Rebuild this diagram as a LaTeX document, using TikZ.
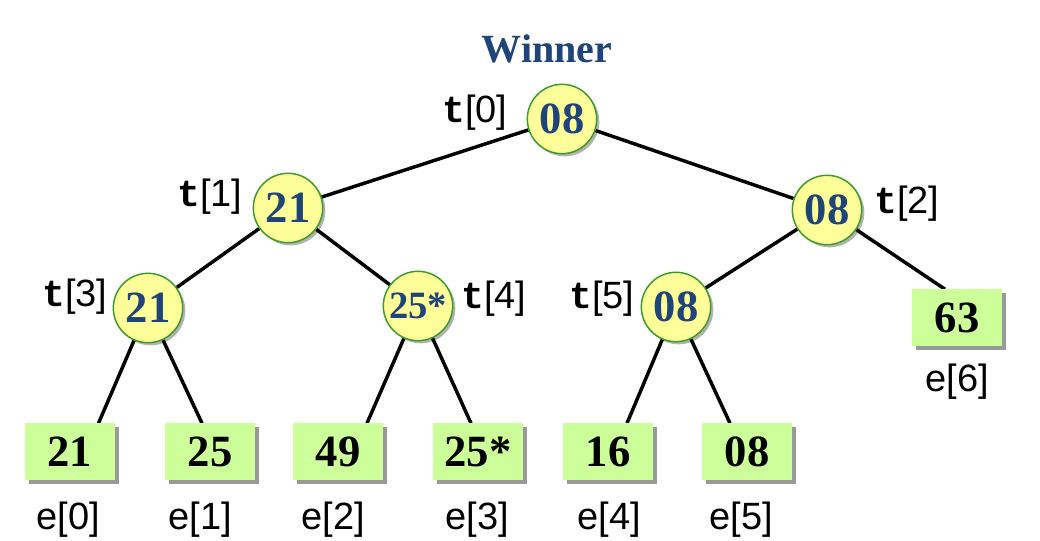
\documentclass[tikz,border=0pt]{standalone}
\usepackage{fontspec}
\setmainfont{Liberation Serif}
\newfontfamily\lsans{Liberation Sans}
\newfontfamily\lmono{Liberation Mono}
\usetikzlibrary{shadows,backgrounds}
\definecolor{circfill}{HTML}{FFFF99}
\definecolor{circdraw}{HTML}{3A9A2A}
\definecolor{boxfill}{HTML}{CCFF99}
\definecolor{numblue}{HTML}{1F447A}
\tikzset{
  tnode/.style={circle, fill=circfill, draw=circdraw, line width=1.1pt,
    minimum size=52pt, inner sep=0pt,
    font=\bfseries\fontsize{33.5}{35}\selectfont, text=numblue,
    drop shadow={shadow xshift=2pt, shadow yshift=-2pt, fill=black, opacity=0.3}},
  tnodesmall/.style={tnode, font=\bfseries\fontsize{29}{31}\selectfont},
  ebox/.style={rectangle, fill=boxfill, minimum width=67.5pt, minimum height=42.75pt,
    inner sep=0pt, font=\bfseries\fontsize{33.5}{35}\selectfont, text=black,
    drop shadow={shadow xshift=3pt, shadow yshift=-3pt, fill=black!40, opacity=1}},
  lbl/.style={inner sep=0pt, font=\lsans\fontsize{28.5}{30}\selectfont},
  edge/.style={line width=2.6pt, black}
}
\newcommand{\mt}{{\lmono\bfseries t}}
\begin{document}
\begin{tikzpicture}[x=0.75pt,y=-0.75pt]
\useasboundingbox (0,0) rectangle (1040,541);
% winner
\node[anchor=base, inner sep=0pt, text=numblue, font=\bfseries\fontsize{30}{32}\selectfont] (win) at (547,63) {Winner};
% tree nodes
\node[tnode] (t0) at (562,119) {08};
\node[tnode] (t1) at (288,208) {21};
\node[tnode] (t2) at (827,210) {08};
\node[tnode] (t3) at (148,308) {21};
\node[tnodesmall] (t4) at (418,306) {25*};
\node[tnode] (t5) at (676,307) {08};
% leaves
\node[ebox] (e0) at (69.5,452) {21};
\node[ebox] (e1) at (210,452) {25};
\node[ebox] (e2) at (338,452) {49};
\node[ebox] (e3) at (478,452) {25*};
\node[ebox] (e4) at (608,452) {16};
\node[ebox] (e5) at (747,452) {08};
\node[ebox] (e6) at (957,318) {63};
% labels
\node[lbl] (l0) at (475,113) {\mt[0]};
\node[lbl] (l1) at (210,197) {\mt[1]};
\node[lbl] (l2) at (907,204) {\mt[2]};
\node[lbl] (l3) at (75,297) {\mt[3]};
\node[lbl] (l4) at (494,299) {\mt[4]};
\node[lbl] (l5) at (602,299) {\mt[5]};
\node[lbl] (le0) at (68,520) {e[0]};
\node[lbl] (le1) at (200,520) {e[1]};
\node[lbl] (le2) at (333,520) {e[2]};
\node[lbl] (le3) at (477,520) {e[3]};
\node[lbl] (le4) at (609,520) {e[4]};
\node[lbl] (le5) at (741,520) {e[5]};
\node[lbl] (le6) at (957,382) {e[6]};
% edges
\begin{pgfonlayer}{background}
\draw[edge] (t0) -- (t1);
\draw[edge] (t0) -- (t2);
\draw[edge] (t1) -- (t3);
\draw[edge] (t1) -- (t4);
\draw[edge] (t2) -- (t5);
\draw[edge] (t2) -- ([xshift=-9pt]e6.north);
\draw[edge] (t3) -- ([xshift=21.75pt]e0.north);
\draw[edge] (t3) -- ([xshift=-6pt]e1.north);
\draw[edge] (t4) -- ([xshift=21.75pt]e2.north);
\draw[edge] (t4) -- ([xshift=-5.25pt]e3.north);
\draw[edge] (t5) -- ([xshift=14.25pt]e4.north);
\draw[edge] (t5) -- ([xshift=-12.75pt]e5.north);
\end{pgfonlayer}
\end{tikzpicture}
\end{document}
